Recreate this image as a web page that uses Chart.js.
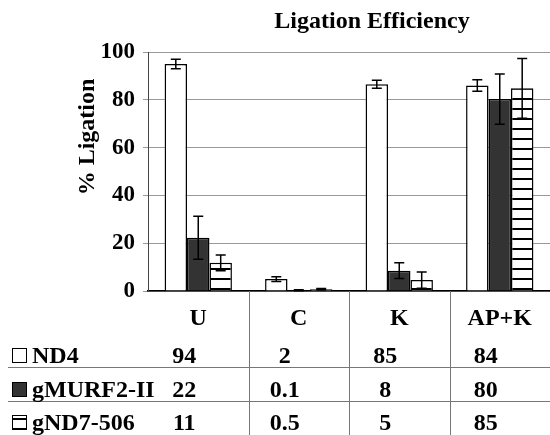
<!DOCTYPE html>
<html lang="en">
<head>
<meta charset="UTF-8">
<title>Ligation Efficiency</title>
<script src="https://cdn.jsdelivr.net/npm/chart.js"></script>
<style>
  body { margin: 0; background: #fff; }
</style>
</head>
<body>
<canvas id="chart" width="550" height="435"></canvas>
<script>
// categories and series
const categories = ['U', 'C', 'K', 'AP+K'];
const seriesNames = ['ND4', 'gMURF2-II', 'gND7-506'];
// bar heights (%)
const nd4 = [95, 5, 86.5, 86];
const gmurf = [22.3, 0.3, 8.5, 80.3];
const gnd7 = [11.8, 0.7, 4.6, 84.8];
// error bars (+/-)
const nd4Err = [2, 1, 1.7, 2.4];
const gmurfErr = [9, 0.2, 3.3, 10.5];
const gnd7Err = [3.3, 0.3, 3.4, 12.5];
// numbers printed in the table under the chart
const nd4Table = ['94', '2', '85', '84'];
const gmurfTable = ['22', '0.1', '8', '80'];
const gnd7Table = ['11', '0.5', '5', '85'];

const SERIF = '"Liberation Serif", "Times New Roman", serif';
const ctx = document.getElementById('chart').getContext('2d');

// horizontal stripe fill for gND7-506
function stripes() {
    const c = document.createElement('canvas');
    c.width = 8; c.height = 10;
    const g = c.getContext('2d');
    g.fillStyle = '#fff'; g.fillRect(0, 0, 8, 10);
    g.fillStyle = '#000'; g.fillRect(0, 8, 8, 2);
    return ctx.createPattern(c, 'repeat');
}

const values = [nd4, gmurf, gnd7];
const errors = [nd4Err, gmurfErr, gnd7Err];
const tableRows = [nd4Table, gmurfTable, gnd7Table];
const fills = ['#ffffff', '#333333', stripes()];

const extras = {
    id: 'extras',
    afterDatasetsDraw(chart) {
        const c = chart.ctx, y = chart.scales.y;
        c.save();
        c.strokeStyle = '#000';
        c.lineWidth = 1.5;
        chart.data.datasets.forEach((ds, i) => {
            chart.getDatasetMeta(i).data.forEach((bar, j) => {
                const v = values[i][j], e = errors[i][j];
                const top = y.getPixelForValue(v + e), bot = y.getPixelForValue(Math.max(0, v - e));
                c.beginPath();
                c.moveTo(bar.x, top); c.lineTo(bar.x, bot);
                c.moveTo(bar.x - 5, top); c.lineTo(bar.x + 5, top);
                c.moveTo(bar.x - 5, bot); c.lineTo(bar.x + 5, bot);
                c.stroke();
            });
        });
        c.restore();
    },
    afterDraw(chart) {
        const c = chart.ctx, x = chart.scales.x, area = chart.chartArea;
        c.save();
        c.fillStyle = '#000';

        // title
        c.font = 'bold 24px ' + SERIF;
        c.textAlign = 'center';
        c.textBaseline = 'middle';
        c.fillText('Ligation Efficiency', 372, 22);

        // y axis title
        c.save();
        c.translate(88, 137);
        c.rotate(-Math.PI / 2);
        c.font = 'bold 24px ' + SERIF;
        c.fillText('% Ligation', 0, 0);
        c.restore();

        // table grid
        c.strokeStyle = '#777';
        c.lineWidth = 1;
        for (let k = 1; k < categories.length; k++) {
            const xb = Math.round((x.getPixelForValue(k - 1) + x.getPixelForValue(k)) / 2) + 0.5;
            c.beginPath(); c.moveTo(xb, area.bottom); c.lineTo(xb, 435); c.stroke();
        }
        [367.5, 401.5].forEach(yy => {
            c.beginPath(); c.moveTo(8, yy); c.lineTo(550, yy); c.stroke();
        });

        // table rows with legend keys
        const baselines = [363, 397, 430];
        c.font = 'bold 24px ' + SERIF;
        c.textBaseline = 'alphabetic';
        seriesNames.forEach((name, r) => {
            const b = baselines[r];
            c.fillStyle = fills[r];
            c.fillRect(12, b - 15, 14, 14);
            c.strokeStyle = '#000';
            c.lineWidth = 1;
            c.strokeRect(12.5, b - 14.5, 14, 14);
            c.fillStyle = '#000';
            c.textAlign = 'left';
            c.fillText(name, 32, b);
            c.textAlign = 'center';
            tableRows[r].forEach((t, j) => c.fillText(t, x.getPixelForValue(j) - 14, b));
        });
        c.restore();
    }
};

new Chart(ctx, {
    type: 'bar',
    data: {
        labels: categories,
        datasets: seriesNames.map((name, i) => ({
            label: name,
            data: values[i],
            backgroundColor: fills[i],
            borderColor: '#000',
            borderWidth: 1.5,
            barPercentage: 1,
            categoryPercentage: 0.67
        }))
    },
    options: {
        responsive: false,
        animation: false,
        layout: { padding: { top: 52, right: 0, left: 0, bottom: 0 } },
        plugins: {
            legend: { display: false },
            title: { display: false },
            tooltip: { enabled: false }
        },
        scales: {
            x: {
                grid: { display: false },
                border: { color: '#000', width: 1.5 },
                ticks: { color: '#000', padding: 5, font: { family: SERIF, size: 24, weight: 'bold' } },
                afterFit(s) { s.height = 144; }
            },
            y: {
                min: 0,
                max: 100,
                grid: { color: '#999', tickLength: 5 },
                border: { color: '#444' },
                ticks: { stepSize: 20, color: '#000', padding: 8, font: { family: SERIF, size: 23, weight: 'bold' } },
                afterFit(s) { s.width = 148; }
            }
        }
    },
    plugins: [extras]
});
</script>
</body>
</html>
